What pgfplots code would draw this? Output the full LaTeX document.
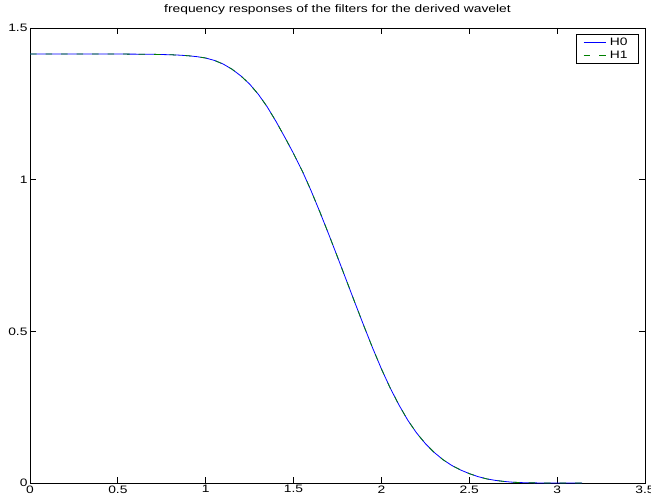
\documentclass[border=0pt]{standalone}
\usepackage{pgfplots}
\pgfplotsset{compat=1.18}
\usepackage{fontspec}
\setmainfont[FakeStretch=1.28]{Liberation Sans}
\pgfplotstableread{
x y
0.000 1.4142
0.300 1.4142
0.500 1.4141
0.600 1.4138
0.700 1.4132
0.800 1.4118
0.850 1.4105
0.900 1.4085
0.950 1.4055
1.000 1.4010
1.050 1.3930
1.100 1.3810
1.150 1.3640
1.200 1.3420
1.250 1.3150
1.300 1.2810
1.350 1.2400
1.400 1.1920
1.450 1.1400
1.500 1.0860
1.550 1.0280
1.600 0.9630
1.650 0.8930
1.700 0.8200
1.750 0.7450
1.800 0.6690
1.850 0.5930
1.900 0.5180
1.950 0.4450
2.000 0.3760
2.050 0.3130
2.100 0.2570
2.150 0.2070
2.200 0.1650
2.250 0.1300
2.300 0.1010
2.350 0.0770
2.400 0.0580
2.450 0.0430
2.500 0.0310
2.550 0.0210
2.600 0.0135
2.650 0.0085
2.700 0.0050
2.750 0.0025
2.800 0.0012
2.900 0.0002
3.000 0.0000
3.1416 0.0000
}\resp
\begin{document}
\begin{tikzpicture}
\begin{axis}[
  name=ax,
  scale only axis,
  width=615bp, height=455bp,
  xmin=0, xmax=3.5, ymin=0, ymax=1.5,
  xtick={0,0.5,...,3.5},
  ytick={0,0.5,1,1.5},
  tick align=inside,
  major tick length=6bp,
  axis line style={line width=0.75bp},
  every tick/.style={black, line width=0.75bp},
  /pgf/number format/assume math mode=true,
  tick label style={font=\fontsize{10.8bp}{13bp}\selectfont},
  xticklabel style={yshift=1bp},
  yticklabel style={xshift=1bp},
  title={frequency responses of the filters for the derived wavelet},
  title style={font=\fontsize{10.8bp}{13bp}\selectfont, at={(0.5,1)}, anchor=base, yshift=10bp},
  legend style={at={(1,1)}, anchor=north east, xshift=-6bp, yshift=-6bp,
    font=\fontsize{10.8bp}{13bp}\selectfont, draw=black, line width=0.75bp,
    inner xsep=7bp, inner ysep=2bp, row sep=1bp,
    nodes={inner xsep=4bp, inner ysep=1.5bp}},
  legend cell align=left,
  legend image code/.code={\draw[#1] (0bp,0bp) -- (22bp,0bp);},
]
\addplot[color=blue, line width=0.8bp] table {\resp};
\addlegendentry{H0}
\addplot[color={rgb,1:red,0;green,0.5;blue,0}, line width=0.8bp, dash pattern=on 6.5bp off 9bp] table {\resp};
\addlegendentry{H1}
\end{axis}
\pgfresetboundingbox
\useasboundingbox ([shift={(-30bp,-19bp)}]ax.south west) rectangle ([shift={(6bp,28bp)}]ax.north east);
\end{tikzpicture}
\end{document}
